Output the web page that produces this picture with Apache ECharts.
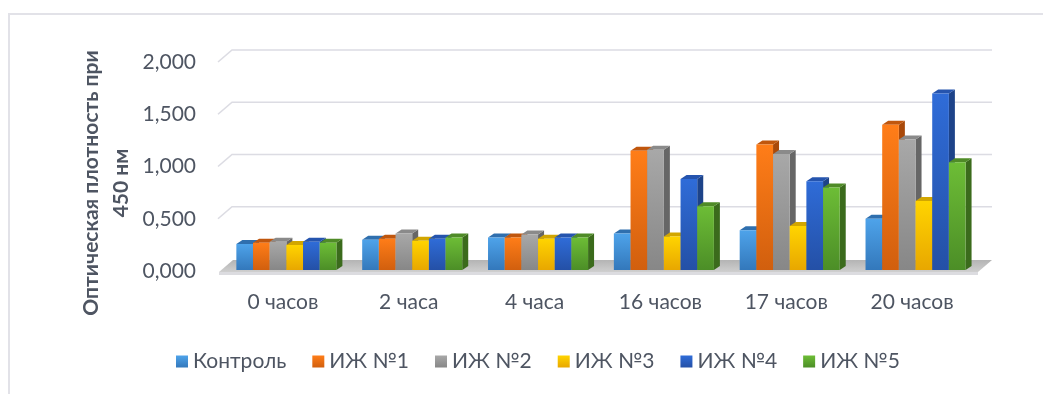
<!DOCTYPE html>
<html>
<head>
<meta charset="utf-8">
<script src="https://cdn.jsdelivr.net/npm/echarts@6/dist/echarts.min.js"></script>
<style>
  html, body { margin: 0; padding: 0; background: #ffffff; }
  #chart { width: 1043px; height: 394px; }
</style>
</head>
<body>
<div id="chart"></div>
<script>
// Optical density at 450 nm over time, control vs. five samples
const categories = ['0 часов', '2 часа', '4 часа', '16 часов', '17 часов', '20 часов'];
const seriesNames = ['Контроль', 'ИЖ №1', 'ИЖ №2', 'ИЖ №3', 'ИЖ №4', 'ИЖ №5'];
const kontrol = [0.25, 0.29, 0.31, 0.35, 0.38, 0.49];
const izh1    = [0.26, 0.30, 0.31, 1.14, 1.20, 1.39];
const izh2    = [0.27, 0.35, 0.34, 1.15, 1.11, 1.25];
const izh3    = [0.24, 0.28, 0.30, 0.32, 0.42, 0.66];
const izh4    = [0.27, 0.30, 0.31, 0.87, 0.85, 1.69];
const izh5    = [0.26, 0.31, 0.31, 0.61, 0.79, 1.03];
const yTicks  = [0, 0.5, 1, 1.5, 2];
const axisTitle = 'Оптическая плотность при\n450 нм';

const allValues = [kontrol, izh1, izh2, izh3, izh4, izh5];

// face colours per series: front gradient (top, bottom), top face, side face
const palette = [
  { a: '#4ea3ea', b: '#3378bb', top: '#2f6fae', side: '#2a609a' },
  { a: '#ff7d18', b: '#d15f0e', top: '#c0560d', side: '#a9490a' },
  { a: '#a8a8a8', b: '#878787', top: '#8a8a8a', side: '#666666' },
  { a: '#ffd400', b: '#e8a700', top: '#d2a600', side: '#b98f00' },
  { a: '#2f6cd8', b: '#2450a6', top: '#2554ae', side: '#1d4389' },
  { a: '#6dbd36', b: '#4c8e27', top: '#4f8b27', side: '#3b6b1c' }
];

const TEXT = '#4e5562';
const FONT_SIZE = 21;
const DX = 6, DY = -4;

function frontGradient(p) {
  return new echarts.graphic.LinearGradient(0, 0, 0, 1, [
    { offset: 0, color: p.a }, { offset: 1, color: p.b }
  ]);
}

function makeRenderer(idx) {
  const p = palette[idx];
  return function (params, api) {
    const cat = api.value(0);
    const v = api.value(1);
    const base = api.coord([cat, 0]);
    const topPt = api.coord([cat, v]);
    const band = api.size([1, 0])[0];
    const w = band * 0.1325;
    const x0 = base[0] - band * 0.37 + idx * w;
    const yb = base[1] - 1;
    const yt = topPt[1] - 1;
    return {
      type: 'group',
      children: [
        {
          type: 'polygon',
          shape: { points: [[x0 + w, yb], [x0 + w, yt], [x0 + w + DX, yt + DY], [x0 + w + DX, yb + DY]] },
          style: { fill: p.side }
        },
        {
          type: 'polygon',
          shape: { points: [[x0, yt], [x0 + DX, yt + DY], [x0 + w + DX, yt + DY], [x0 + w, yt]] },
          style: { fill: p.top }
        },
        {
          type: 'rect',
          shape: { x: x0, y: yt, width: w, height: yb - yt },
          style: { fill: frontGradient(p) }
        }
      ]
    };
  };
}

const chart = echarts.init(document.getElementById('chart'), null, { renderer: 'canvas' });

const series = seriesNames.map(function (name, i) {
  return {
    type: 'custom',
    name: name,
    renderItem: makeRenderer(i),
    itemStyle: { color: frontGradient(palette[i]) },
    data: allValues[i].map(function (v, c) { return [c, v]; }),
    z: 3 + i * 0.01
  };
});

chart.setOption({
  animation: false,
  backgroundColor: '#ffffff',
  grid: { left: 220, right: 68, top: 62, bottom: 123, containLabel: false },
  xAxis: {
    type: 'category',
    data: categories,
    axisLine: { show: false },
    axisTick: { show: false },
    axisLabel: { color: TEXT, fontFamily: 'Lato', fontSize: FONT_SIZE, margin: 21 }
  },
  yAxis: {
    type: 'value',
    min: 0,
    max: yTicks[yTicks.length - 1],
    interval: yTicks[1] - yTicks[0],
    axisLine: { show: false },
    axisTick: { show: false },
    splitLine: { show: false },
    axisLabel: {
      color: TEXT, fontFamily: 'Lato', fontSize: FONT_SIZE, margin: 24,
      formatter: function (v) { return v.toFixed(3).replace('.', ','); }
    }
  },
  legend: {
    data: seriesNames,
    left: 171,
    top: 346,
    icon: 'rect',
    itemWidth: 12,
    itemHeight: 12,
    itemGap: 26,
    textStyle: { color: TEXT, fontFamily: 'Lato', fontSize: FONT_SIZE }
  },
  series: series
});

// back wall gridlines and floor, placed from the axis scales
function drawFrame() {
  const xAxis = chart.getModel().getComponent('xAxis', 0).axis;
  const band = xAxis.getBandWidth();
  const left = chart.convertToPixel({ xAxisIndex: 0 }, 0) - band / 2;
  const right = left + band * categories.length;
  const y0 = chart.convertToPixel({ yAxisIndex: 0 }, 0);
  const wallDX = 14, wallDY = -12;
  const elements = [];

  // outer frame line
  elements.push({
    type: 'polyline',
    shape: { points: [[9, 394], [9, 14], [1043, 14]] },
    style: { stroke: '#e2e2e8', lineWidth: 2, fill: null },
    z: 0
  });

  yTicks.forEach(function (t) {
    if (t === 0) return;
    const y = chart.convertToPixel({ yAxisIndex: 0 }, t);
    elements.push({
      type: 'polyline',
      shape: { points: [[left - 2, y], [left - 2 + wallDX, y + wallDY], [right + 17, y + wallDY]] },
      style: { stroke: '#dcdce3', lineWidth: 1.6, fill: null },
      z: 1
    });
  });

  // floor slab
  elements.push({
    type: 'polygon',
    shape: { points: [[left - 1, y0 + 1], [left - 1 + wallDX, y0 + 1 + wallDY], [right + 17, y0 + 1 + wallDY], [right + 3, y0 + 1]] },
    style: {
      fill: new echarts.graphic.LinearGradient(0, 0, 0, 1, [
        { offset: 0, color: '#b4b4b4' }, { offset: 1, color: '#cfcfcf' }
      ])
    },
    z: 1
  });
  elements.push({
    type: 'rect',
    shape: { x: left - 1, y: y0 + 1, width: right - left + 4, height: 3 },
    style: { fill: '#dcdce0' },
    z: 1
  });

  // axis title
  elements.push({
    type: 'text',
    x: 106,
    y: 183,
    rotation: Math.PI / 2,
    style: {
      text: axisTitle,
      fill: TEXT,
      font: 'bold ' + FONT_SIZE + 'px Lato',
      align: 'center',
      verticalAlign: 'middle',
      lineHeight: 30
    },
    z: 2
  });

  chart.setOption({ graphic: { elements: elements } });
}

drawFrame();
</script>
</body>
</html>
